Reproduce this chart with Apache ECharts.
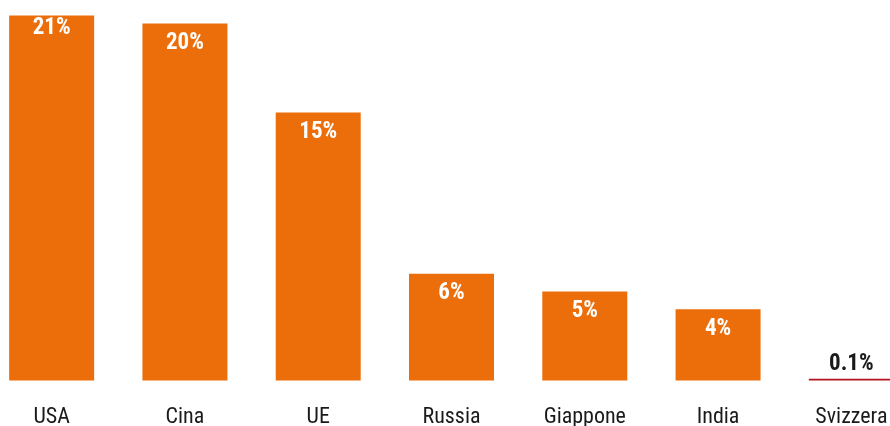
<!DOCTYPE html>
<html><head><meta charset="utf-8">
<script src="https://cdn.jsdelivr.net/npm/echarts@6/dist/echarts.min.js"></script>
<style>html,body{margin:0;padding:0;background:#fff}#c{width:890px;height:426px}</style>
</head><body><div id="c"></div>
<script>
const categories = ['USA', 'Cina', 'UE', 'Russia', 'Giappone', 'India', 'Svizzera'];
const values = [20.5, 20.05, 15.05, 6.0, 5.0, 4.0, 0.1];
const valueLabels = ['21%', '20%', '15%', '6%', '5%', '4%', '0.1%'];
const FONT = '"Roboto Condensed", "Liberation Sans Narrow", "Arial Narrow", "DejaVu Sans Condensed", sans-serif';
const ORANGE = '#EC6E0A', RED = '#B3121E';

const data = values.map((v, i) => {
  const small = v < 1;
  return {
    value: v,
    itemStyle: { color: small ? RED : ORANGE },
    label: small
      ? { position: 'top', distance: 3, color: '#1a1a1a' }
      : { position: 'insideTop', distance: i === 0 ? 1 : 8, color: '#ffffff' }
  };
});

const chart = echarts.init(document.getElementById('c'), null, { renderer: 'canvas' });
chart.setOption({
  animation: false,
  grid: { left: -15, right: -28, top: 6.7, bottom: 45.5, containLabel: false, outerBoundsMode: 'none' },
  xAxis: {
    type: 'category', data: categories,
    axisLine: { show: false }, axisTick: { show: false },
    axisLabel: { color: '#1a1a1a', fontFamily: FONT, fontSize: 22, margin: 26 }
  },
  yAxis: { type: 'value', min: 0, max: 21, show: false, splitLine: { show: false } },
  series: [{
    type: 'bar', data: data, barWidth: 85,
    label: {
      show: true, fontFamily: FONT, fontSize: 23, fontWeight: 'bold',
      formatter: p => valueLabels[p.dataIndex]
    }
  }]
});
</script></body></html>
